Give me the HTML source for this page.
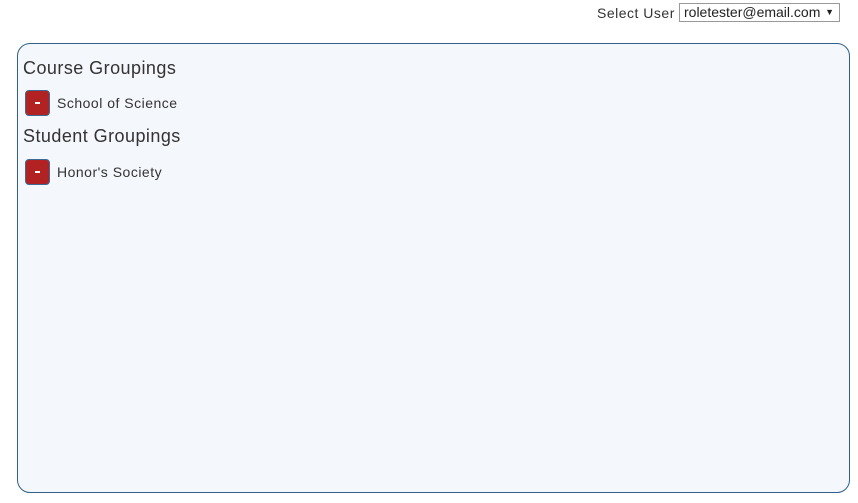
<!DOCTYPE html>
<html><head><meta charset="utf-8"><style>
html,body{margin:0;padding:0;width:858px;height:503px;background:#fff;overflow:hidden;font-family:"Liberation Sans",Arial,sans-serif;color:#333}
.sel{position:absolute;left:597px;top:5px;font-size:14px;line-height:17px;color:#333;letter-spacing:0.5px}
.box{position:absolute;left:679px;top:3px;width:161px;height:19px;border:1px solid #999;box-sizing:border-box;font-size:14px;line-height:17px;padding-left:4px;color:#222;background:#fff}
.box span{position:absolute;right:5px;top:0;font-size:9px}
.panel{position:absolute;left:17px;top:43px;width:833px;height:450px;box-sizing:border-box;border:1px solid #2f5f8a;border-radius:13px;background:#f4f7fc}
h2{position:absolute;left:5px;margin:0;font-weight:normal;font-size:18px;line-height:20px;color:#333;letter-spacing:0.45px}
.btn{position:absolute;left:7px;width:25px;height:26px;box-sizing:border-box;background:#b22222;border:1.5px solid #3b6a94;border-radius:4px}
.btn::after{content:"";position:absolute;left:9px;top:11px;width:5px;height:1.5px;background:#fff}
.lbl{position:absolute;left:39px;font-size:14px;line-height:16px;color:#333;letter-spacing:0.5px}
</style></head><body>
<div class="sel">Select User</div>
<div class="box">roletester@email.com<span>▼</span></div>
<div class="panel">
<h2 style="top:14px">Course Groupings</h2>
<div class="btn" style="top:46px"></div>
<div class="lbl" style="top:51px">School of Science</div>
<h2 style="top:82px">Student Groupings</h2>
<div class="btn" style="top:115px"></div>
<div class="lbl" style="top:120px">Honor's Society</div>
</div>
</body></html>
